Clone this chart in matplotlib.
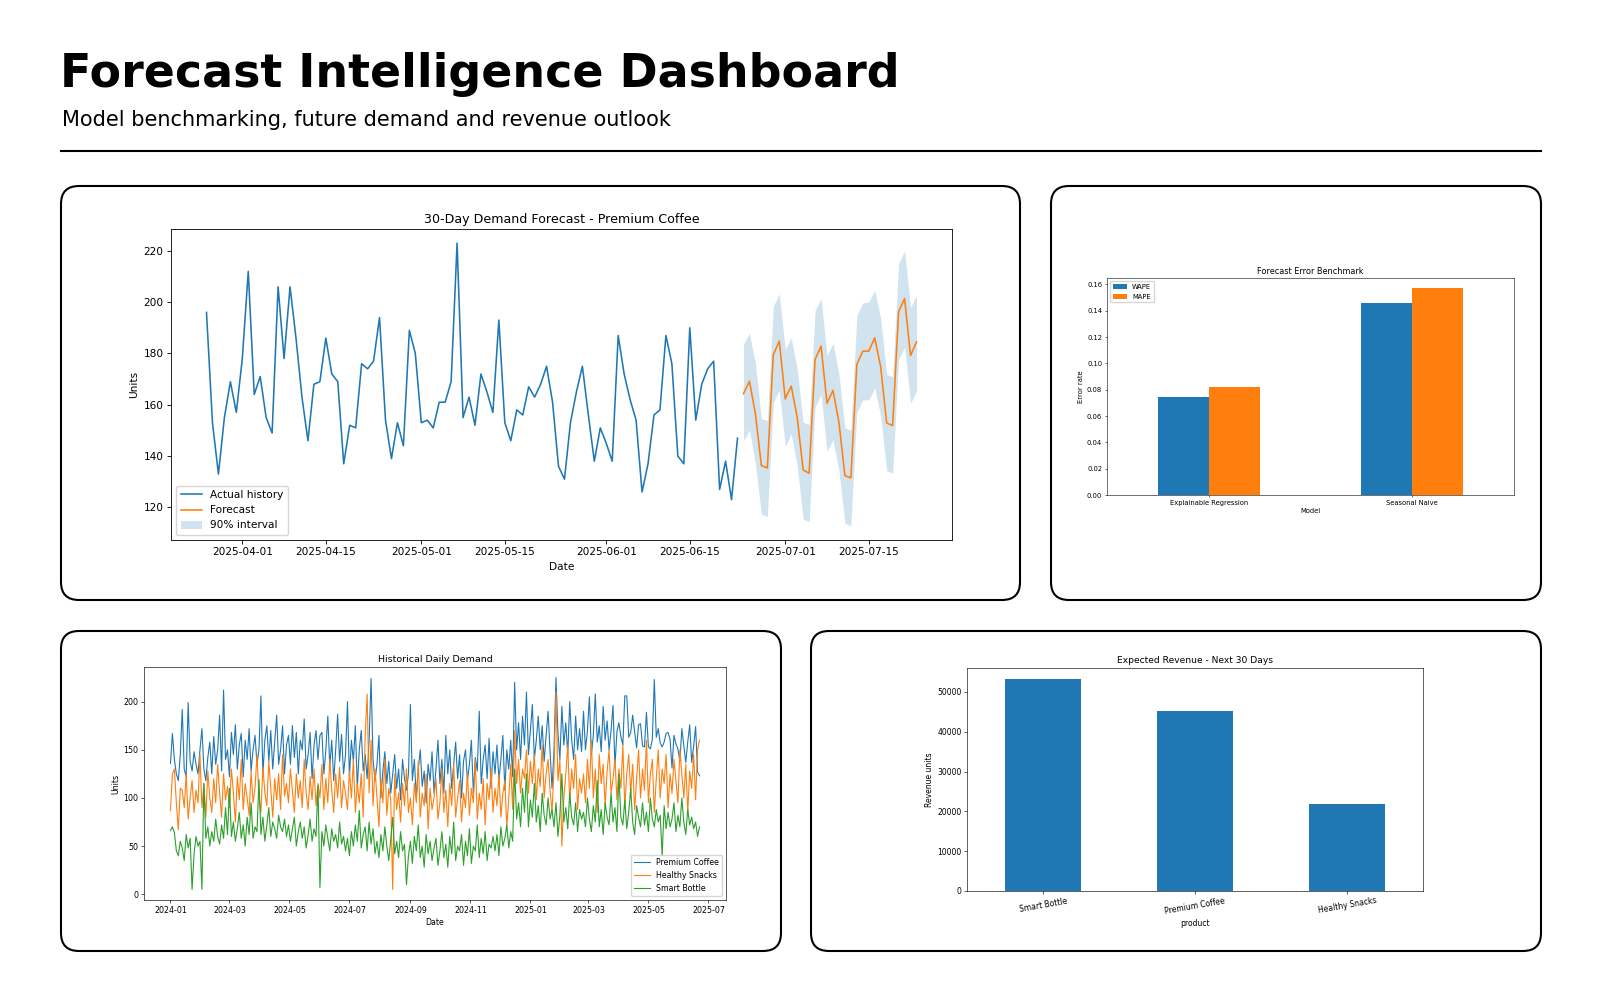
import matplotlib
matplotlib.use("Agg")
import matplotlib.pyplot as plt
import matplotlib.dates as mdates
from matplotlib.patches import FancyBboxPatch
import numpy as np
import pandas as pd

# 30-day forecast panel (Premium Coffee)
history_start = "2025-03-26"
history_units = [
    196, 153, 133, 155, 169, 157,
    178, 212, 164, 171, 155, 149, 206, 178, 206, 186, 163, 146, 168, 169, 186,
    172, 169, 137, 152, 151, 176, 174, 177, 194, 154, 139, 153, 144, 189, 180,
    153, 154, 151, 161, 161, 169, 223, 155, 163, 152, 172, 165, 157, 193, 153,
    146, 158, 156, 167, 163, 168, 175, 161, 136, 131, 153, 165, 175, 156, 138, 151,
    145, 138, 187, 172, 162, 154, 126, 137, 156, 158, 187, 176, 140, 137, 190,
    154, 168, 174, 177, 127, 138, 123, 147,
]
forecast_start = "2025-06-24"
forecast_units = [
    164.3, 169.2, 156.5, 136.3, 135.4, 179.5, 184.8, 162.3, 167.3, 155.2,
    134.6, 133.3, 177.6, 182.9, 160.6, 165.6, 153.2, 132.4, 131.5, 175.7,
    180.9, 180.9, 186.1, 174.7, 152.9, 151.9, 196.2, 201.4, 179.2, 184.5,
]
forecast_upper = [
    183.5, 188.0, 176.0, 154.5, 153.9, 198.4, 203.3, 181.5, 186.1, 174.0,
    153.2, 152.3, 196.8, 201.4, 179.2, 184.0, 171.8, 151.0, 150.2, 194.9,
    199.7, 200.1, 204.6, 193.6, 171.8, 171.0, 215.0, 220.0, 197.9, 202.7,
]
forecast_lower = [
    146.0, 150.2, 137.0, 117.4, 116.4, 161.0, 165.6, 143.7, 148.6, 136.3,
    115.4, 114.5, 159.0, 164.0, 141.9, 146.3, 134.3, 113.8, 112.8, 157.1,
    161.9, 161.9, 166.6, 155.4, 134.3, 133.3, 177.6, 182.5, 160.6, 165.3,
]

# error benchmark
models = ["Explainable Regression", "Seasonal Naive"]
wape = [0.0744, 0.1460]
mape = [0.0820, 0.1570]

# expected revenue
products = ["Smart Bottle", "Premium Coffee", "Healthy Snacks"]
revenue = [53350, 45230, 21950]

# historical demand, read every second day from 2024-01-01
daily_start = "2024-01-01"
coffee_daily = [
    136, 167, 140, 125, 118, 145, 192, 130, 122, 199, 138, 128, 148, 135, 125,
    150, 172, 130, 118, 142, 158, 125, 164, 135, 150, 186, 128, 212, 140, 150,
    122, 168, 145, 176, 130, 155, 167, 122, 160, 140, 172, 128, 150, 165, 135,
    150, 206, 125, 160, 175, 138, 170, 130, 158, 186, 135, 150, 175, 125, 155,
    165, 135, 175, 142, 168, 125, 160, 150, 182, 130, 145, 168, 120, 155, 170,
    140, 165, 168, 125, 150, 185, 132, 160, 118, 150, 187, 138, 166, 125, 145,
    200, 122, 160, 138, 175, 110, 150, 170, 128, 145, 120, 160, 224, 140, 118,
    135, 165, 100, 128, 148, 115, 138, 105, 125, 145, 110, 130, 98, 140, 120,
    108, 125, 197, 118, 140, 100, 130, 150, 112, 128, 95, 135, 118, 148, 105,
    130, 160, 115, 140, 105, 165, 125, 150, 110, 135, 158, 120, 145, 100, 138,
    150, 118, 135, 160, 105, 142, 128, 190, 115, 140, 155, 120, 162, 110, 148,
    125, 155, 118, 140, 165, 108, 150, 130, 160, 122, 220, 150, 178, 140, 185,
    155, 210, 145, 170, 197, 140, 160, 185, 150, 175, 138, 165, 190, 148, 110,
    150, 225, 168, 140, 195, 155, 178, 145, 200, 160, 140, 185, 150, 172, 148,
    190, 150, 170, 205, 145, 165, 208, 158, 175, 148, 195, 160, 180, 150, 170,
    196, 133, 169, 178, 164, 155, 206, 206, 163, 168, 186, 169, 152, 176, 177,
    154, 153, 189, 153, 151, 161, 223, 163, 172, 157, 153, 158, 167, 168, 161,
    131, 165, 156, 151, 138, 172, 154, 137, 158, 176, 137, 154, 174, 127, 123,
]
snacks_daily = [
    87, 125, 130, 95, 67, 110, 108, 90, 125, 78, 100, 118, 85, 108, 95,
    145, 90, 115, 80, 128, 100, 85, 120, 95, 135, 105, 80, 125, 98, 112,
    90, 130, 105, 75, 122, 98, 140, 88, 115, 100, 82, 128, 95, 110, 145,
    100, 85, 132, 105, 92, 138, 110, 80, 120, 98, 125, 88, 145, 102, 115,
    95, 130, 108, 85, 125, 100, 118, 90, 140, 105, 88, 122, 98, 130, 92,
    115, 100, 135, 88, 120, 95, 140, 108, 85, 125, 100, 132, 90, 118, 105,
    88, 128, 100, 140, 85, 115, 95, 125, 80, 165, 208, 105, 160, 92, 130,
    100, 70, 120, 95, 140, 82, 110, 98, 5, 125, 88, 105, 75, 115, 92,
    130, 85, 100, 72, 115, 95, 138, 80, 105, 92, 125, 68, 110, 88, 100,
    120, 78, 95, 130, 85, 108, 70, 115, 92, 135, 80, 100, 118, 75, 105,
    90, 125, 82, 110, 95, 140, 78, 105, 88, 120, 72, 115, 98, 130, 85,
    110, 92, 125, 80, 105, 118, 70, 100, 135, 88, 170, 115, 140, 105, 130,
    120, 150, 105, 138, 115, 145, 98, 130, 112, 155, 100, 125, 140, 108, 85,
    130, 210, 118, 140, 50, 100, 125, 155, 95, 130, 110, 145, 88, 120, 105,
    125, 95, 140, 110, 160, 100, 130, 85, 145, 115, 135, 92, 128, 150, 105,
    120, 140, 98, 130, 110, 155, 90, 125, 145, 105, 135, 88, 120, 150, 100,
    130, 108, 160, 95, 125, 140, 85, 120, 150, 100, 130, 115, 145, 90, 125,
    105, 140, 118, 95, 150, 125, 100, 135, 85, 128, 110, 145, 98, 150, 160,
]
bottle_daily = [
    66, 70, 64, 45, 40, 55, 48, 35, 62, 48, 58, 5, 42, 60, 50,
    55, 5, 115, 58, 70, 50, 65, 55, 78, 60, 52, 72, 58, 90, 62,
    110, 60, 75, 55, 68, 85, 58, 72, 50, 80, 62, 95, 58, 70, 65,
    119, 62, 80, 55, 72, 90, 60, 75, 68, 58, 82, 70, 65, 78, 60,
    72, 55, 68, 80, 50, 65, 75, 58, 70, 48, 62, 78, 55, 68, 60,
    113, 7, 65, 50, 72, 58, 45, 68, 55, 62, 48, 75, 52, 60, 45,
    58, 40, 65, 50, 72, 55, 87, 48, 62, 70, 45, 75, 52, 68, 42,
    55, 38, 62, 45, 70, 50, 35, 58, 80, 42, 55, 38, 65, 45, 52,
    10, 40, 55, 32, 60, 45, 72, 38, 50, 28, 62, 42, 55, 35, 48,
    58, 30, 45, 65, 38, 52, 28, 60, 42, 75, 35, 50, 45, 62, 30,
    55, 40, 68, 32, 50, 45, 72, 38, 58, 42, 65, 35, 52, 48, 60,
    45, 62, 40, 70, 50, 58, 72, 48, 65, 55, 130, 78, 95, 70, 110,
    85, 125, 70, 98, 80, 115, 75, 92, 65, 105, 82, 72, 100, 78, 88,
    70, 95, 60, 82, 125, 75, 90, 68, 105, 80, 72, 95, 65, 88, 78,
    85, 70, 100, 78, 65, 92, 75, 118, 70, 88, 62, 95, 80, 72, 105,
    75, 90, 65, 125, 80, 72, 98, 68, 85, 110, 75, 62, 92, 80, 70,
    95, 72, 85, 65, 100, 78, 70, 88, 75, 82, 40, 92, 68, 85, 70,
    78, 95, 65, 82, 70, 100, 75, 62, 88, 72, 80, 68, 75, 60, 70,
]

W, H = 1600, 1000


def box(x0, y0, x1, y1):
    # pixel box (top-left origin) -> figure fraction rect
    return [x0 / W, 1 - y1 / H, (x1 - x0) / W, (y1 - y0) / H]


def style(ax, s, title, xlabel, ylabel):
    ax.set_title(title, fontsize=12 * s, pad=6 * s)
    ax.set_xlabel(xlabel, fontsize=10 * s, labelpad=4 * s)
    ax.set_ylabel(ylabel, fontsize=10 * s, labelpad=4 * s)
    ax.tick_params(labelsize=10 * s, length=3.5 * s, width=0.8 * s, pad=3.5 * s)
    for sp in ax.spines.values():
        sp.set_linewidth(0.8 * s)


fig = plt.figure(figsize=(16, 10), dpi=100)

# header and cards
bg = fig.add_axes([0, 0, 1, 1])
bg.set_xlim(0, W)
bg.set_ylim(H, 0)
bg.axis("off")
bg.text(60, 87, "Forecast Intelligence Dashboard", fontsize=33,
        fontweight="bold", va="baseline")
bg.text(62, 126, "Model benchmarking, future demand and revenue outlook",
        fontsize=15, va="baseline")
bg.plot([61, 1541], [151, 151], color="black", lw=1.5)

cards = [(61, 186, 1020, 600), (1051, 186, 1541, 600),
         (61, 631, 781, 951), (811, 631, 1541, 951)]
for x0, y0, x1, y1 in cards:
    bg.add_patch(FancyBboxPatch((x0, y0), x1 - x0, y1 - y0,
                                boxstyle="round,pad=0,rounding_size=18",
                                fill=False, ec="black", lw=1.5))

# forecast chart
s1 = 0.76
ax1 = fig.add_axes(box(171, 229, 952, 540))
hist_dates = pd.date_range(history_start, periods=len(history_units), freq="D")
fc_dates = pd.date_range(forecast_start, periods=len(forecast_units), freq="D")
ax1.plot(hist_dates, history_units, lw=1.5 * s1, label="Actual history")
ax1.plot(fc_dates, forecast_units, lw=1.5 * s1, label="Forecast")
ax1.fill_between(fc_dates, forecast_lower, forecast_upper, color="tab:blue",
                 alpha=0.2, lw=0, label="90% interval")
ax1.xaxis.set_major_locator(mdates.DayLocator(bymonthday=[1, 15]))
ax1.xaxis.set_major_formatter(mdates.DateFormatter("%Y-%m-%d"))
style(ax1, s1, "30-Day Demand Forecast - Premium Coffee", "Date", "Units")
ax1.legend(loc="lower left", fontsize=10 * s1)

# benchmark chart
s2 = 0.49
ax2 = fig.add_axes(box(1107, 278, 1514, 495))
xm = np.arange(len(models))
ax2.bar(xm - 0.125, wape, 0.25, label="WAPE")
ax2.bar(xm + 0.125, mape, 0.25, label="MAPE")
ax2.set_xticks(xm, models)
ax2.set_xlim(-0.5, 1.5)
style(ax2, s2, "Forecast Error Benchmark", "Model", "Error rate")
ax2.legend(loc="upper left", fontsize=10 * s2)

# historical chart
s3 = 0.57
ax3 = fig.add_axes(box(144, 667, 726, 900))
dd = pd.date_range(daily_start, periods=len(coffee_daily), freq="2D")
ax3.plot(dd, coffee_daily, lw=1.4 * s3, label="Premium Coffee")
ax3.plot(dd, snacks_daily, lw=1.4 * s3, label="Healthy Snacks")
ax3.plot(dd, bottle_daily, lw=1.4 * s3, label="Smart Bottle")
ax3.xaxis.set_major_locator(mdates.MonthLocator(bymonth=[1, 3, 5, 7, 9, 11]))
ax3.xaxis.set_major_formatter(mdates.DateFormatter("%Y-%m"))
style(ax3, s3, "Historical Daily Demand", "Date", "Units")
ax3.legend(loc="lower right", fontsize=10 * s3)

# revenue chart
s4 = 0.55
ax4 = fig.add_axes(box(967, 668, 1423, 891))
xp = np.arange(len(products))
ax4.bar(xp, revenue, 0.5)
ax4.set_xticks(xp, products, rotation=10)
ax4.set_xlim(-0.5, 2.5)
style(ax4, s4, "Expected Revenue - Next 30 Days", "product", "Revenue units")

fig.savefig("out.png", dpi=100)
